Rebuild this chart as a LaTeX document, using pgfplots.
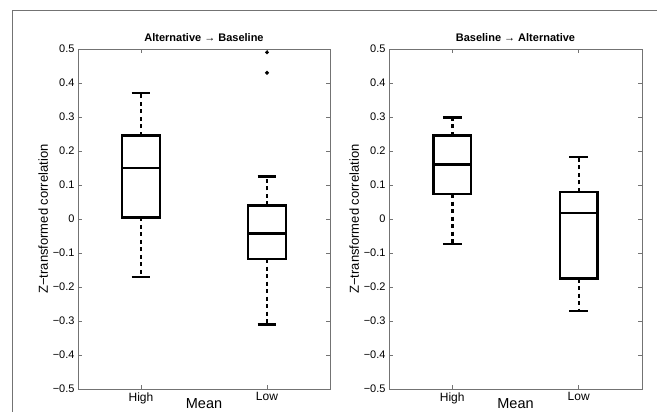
\documentclass[border=0pt]{standalone}
\usepackage{pgfplots}
\pgfplotsset{compat=1.18}
\usepackage{fontspec}
\setmainfont{Liberation Sans}

\pgfplotsset{
  boxpanel/.style={
    scale only axis,
    height=340pt,
    anchor=south west,
    xmin=0.5, xmax=2.5,
    ymin=-0.5, ymax=0.5,
    xtick={1,2}, xticklabels={High,Low},
    ytick={-0.5,-0.4,-0.3,-0.2,-0.1,0,0.1,0.2,0.3,0.4,0.5},
    yticklabels={−0.5,−0.4,−0.3,−0.2,−0.1,0,0.1,0.2,0.3,0.4,0.5},
    yticklabel style={font=\fontsize{11}{13}\selectfont},
    xticklabel style={font=\fontsize{12}{14}\selectfont},
    axis line style={draw=black!55, line width=0.7pt},
    tick style={draw=black!55, line width=0.7pt},
    major tick length=4pt,
    tick align=inside,
    xtick pos=both, ytick pos=both,
    title style={font=\fontsize{11}{13}\selectfont\bfseries, yshift=-2pt},
    xlabel={Mean},
    xlabel style={font=\fontsize{14.5}{16}\selectfont, yshift=12pt},
    ylabel={Z−transformed correlation},
    ylabel style={font=\fontsize{13}{15}\selectfont, yshift=-2pt},
  },
  solidln/.style={black, line width=2.5pt, no markers, solid},
  whisk/.style={black, line width=2.5pt, no markers, dash pattern=on 4pt off 3.5pt},
}

\begin{document}
\begin{tikzpicture}
\path[use as bounding box] (0,0) rectangle (657pt,-412pt);
\draw[black!55, line width=1pt] (12pt,-412pt) -- (12pt,-11pt) -- (657pt,-11pt);

\begin{axis}[boxpanel, at={(78pt,-389pt)}, width=252pt,
  title={Alternative → Baseline}]
% High: whiskers -0.17 / 0.37, quartiles 0.005 / 0.245, median 0.15
\addplot[whisk] coordinates {(1,0.245) (1,0.37)};
\addplot[whisk] coordinates {(1,0.005) (1,-0.17)};
\addplot[solidln] coordinates {(0.925,0.37) (1.075,0.37)};
\addplot[solidln] coordinates {(0.925,-0.17) (1.075,-0.17)};
\addplot[solidln, fill=white] coordinates {(0.85,0.005) (1.15,0.005) (1.15,0.245) (0.85,0.245)} -- cycle;
\addplot[solidln] coordinates {(0.85,0.15) (1.15,0.15)};
% Low: whiskers -0.31 / 0.125, quartiles -0.118 / 0.04, median -0.043
\addplot[whisk] coordinates {(2,0.04) (2,0.125)};
\addplot[whisk] coordinates {(2,-0.118) (2,-0.31)};
\addplot[solidln] coordinates {(1.925,0.125) (2.075,0.125)};
\addplot[solidln] coordinates {(1.925,-0.31) (2.075,-0.31)};
\addplot[solidln, fill=white] coordinates {(1.85,-0.118) (2.15,-0.118) (2.15,0.04) (1.85,0.04)} -- cycle;
\addplot[solidln] coordinates {(1.85,-0.043) (2.15,-0.043)};
% outliers
\addplot[only marks, mark=*, mark size=1.8pt, black] coordinates {(2,0.49) (2,0.43)};
\end{axis}

\begin{axis}[boxpanel, at={(389pt,-389pt)}, width=253pt,
  title={Baseline → Alternative}]
% High: whiskers -0.073 / 0.298, quartiles 0.073 / 0.245, median 0.16
\addplot[whisk] coordinates {(1,0.245) (1,0.298)};
\addplot[whisk] coordinates {(1,0.073) (1,-0.073)};
\addplot[solidln] coordinates {(0.925,0.298) (1.075,0.298)};
\addplot[solidln] coordinates {(0.925,-0.073) (1.075,-0.073)};
\addplot[solidln, fill=white] coordinates {(0.85,0.073) (1.15,0.073) (1.15,0.245) (0.85,0.245)} -- cycle;
\addplot[solidln] coordinates {(0.85,0.16) (1.15,0.16)};
% Low: whiskers -0.27 / 0.182, quartiles -0.175 / 0.08, median 0.017
\addplot[whisk] coordinates {(2,0.08) (2,0.182)};
\addplot[whisk] coordinates {(2,-0.175) (2,-0.27)};
\addplot[solidln] coordinates {(1.925,0.182) (2.075,0.182)};
\addplot[solidln] coordinates {(1.925,-0.27) (2.075,-0.27)};
\addplot[solidln, fill=white] coordinates {(1.85,-0.175) (2.15,-0.175) (2.15,0.08) (1.85,0.08)} -- cycle;
\addplot[solidln] coordinates {(1.85,0.017) (2.15,0.017)};
\end{axis}
\end{tikzpicture}
\end{document}
